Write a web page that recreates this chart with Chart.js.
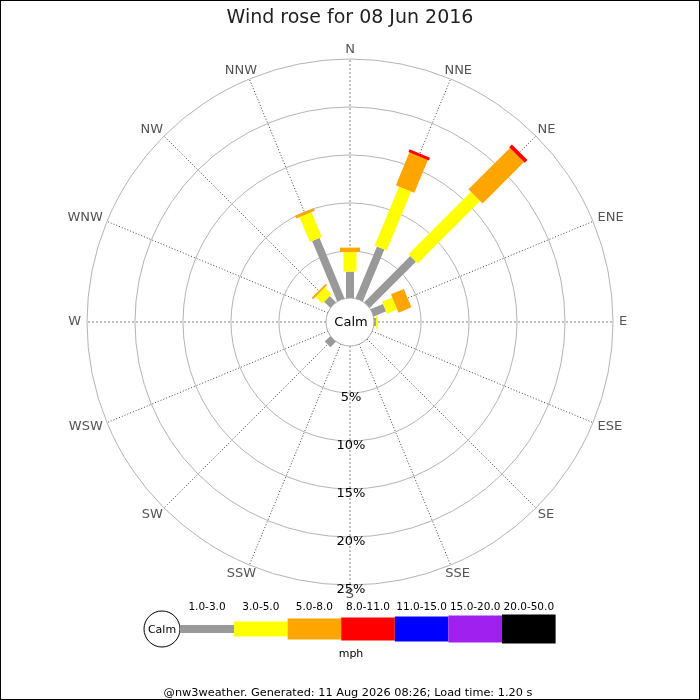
<!DOCTYPE html>
<html lang="en">
<head>
    <meta charset="UTF-8">
    <title>Wind rose for 08 Jun 2016</title>
    <script src="https://cdn.jsdelivr.net/npm/chart.js"></script>
    <style>
        body {
            margin: 0;
            padding: 0;
            background-color: #fff;
        }

        #chart-container {
            width: 700px;
            height: 700px;
        }
    </style>
</head>
<body>
    <div id="chart-container">
        <canvas id="roseChart"></canvas>
    </div>

    <script>
        const directions = ['N', 'NNE', 'NE', 'ENE', 'E', 'ESE', 'SE', 'SSE',
                            'S', 'SSW', 'SW', 'WSW', 'W', 'WNW', 'NW', 'NNW'];
        const speedBins = ['1.0-3.0', '3.0-5.0', '5.0-8.0', '8.0-11.0', '11.0-15.0', '15.0-20.0', '20.0-50.0'];

        // % of the day from each direction, one array per speed bin (mph)
        const pct1to3   = [2.85, 5.95, 6.9, 1.5, 0.3, 0, 0, 0, 0, 0, 0.9, 0, 0, 0, 1.0, 6.9];
        const pct3to5   = [2.05, 6.65, 9.2, 1.15, 0.2, 0, 0, 0, 0, 0, 0, 0, 0, 0, 1.0, 2.8];
        const pct5to8   = [0.45, 3.7, 6.1, 1.45, 0, 0, 0, 0, 0, 0, 0, 0, 0, 0, 0.2, 0.3];
        const pct8to11  = [0, 0.3, 0.4, 0, 0, 0, 0, 0, 0, 0, 0, 0, 0, 0, 0, 0];
        const pct11to15 = [0, 0, 0, 0, 0, 0, 0, 0, 0, 0, 0, 0, 0, 0, 0, 0];
        const pct15to20 = [0, 0, 0, 0, 0, 0, 0, 0, 0, 0, 0, 0, 0, 0, 0, 0];
        const pct20to50 = [0, 0, 0, 0, 0, 0, 0, 0, 0, 0, 0, 0, 0, 0, 0, 0];

        const tickValues = [5, 10, 15, 20, 25];

        const binColours = ['#999999', '#ffff00', '#ffa500', '#ff0000', '#0000ff', '#a020f0', '#000000'];
        const barWidths = [8, 13, 20, 22, 24, 26, 28];
        const legendHeights = [8, 15, 21, 23, 25, 27, 29];

        const binValues = [pct1to3, pct3to5, pct5to8, pct8to11, pct11to15, pct15to20, pct20to50];
        // running totals so each bin sits on top of the slower ones
        const cumulative = binValues.map((arr, k) =>
            arr.map((v, i) => binValues.slice(0, k + 1).reduce((s, a) => s + a[i], 0)));

        const FONT = '"DejaVu Sans", sans-serif';

        const roseDrawing = {
            id: 'roseDrawing',
            beforeDraw(chart) {
                const ctx = chart.ctx;
                ctx.save();
                ctx.fillStyle = '#fff';
                ctx.fillRect(0, 0, chart.width, chart.height);
                ctx.restore();
            },
            afterDatasetsDraw(chart) {
                const ctx = chart.ctx;
                const r = chart.scales.r;
                ctx.save();

                // stacked bars, one thick line per speed bin
                ctx.lineCap = 'butt';
                directions.forEach((d, i) => {
                    let start = r.getPointPositionForValue(i, 0);
                    cumulative.forEach((arr, k) => {
                        const end = chart.getDatasetMeta(k).data[i];
                        if (binValues[k][i] > 0) {
                            ctx.beginPath();
                            ctx.strokeStyle = binColours[k];
                            ctx.lineWidth = barWidths[k];
                            ctx.moveTo(start.x, start.y);
                            ctx.lineTo(end.x, end.y);
                            ctx.stroke();
                        }
                        start = { x: end.x, y: end.y };
                    });
                });

                // calm circle
                const calmR = r.getDistanceFromCenterForValue(0) + 1;
                ctx.beginPath();
                ctx.arc(r.xCenter, r.yCenter, calmR, 0, Math.PI * 2);
                ctx.fillStyle = '#fff';
                ctx.fill();
                ctx.lineWidth = 1;
                ctx.strokeStyle = '#aaa';
                ctx.stroke();
                ctx.fillStyle = '#000';
                ctx.font = '13px ' + FONT;
                ctx.textAlign = 'center';
                ctx.textBaseline = 'middle';
                ctx.fillText('Calm', r.xCenter + 1, r.yCenter + 1);

                // percentage labels down the S axis
                tickValues.forEach(v => {
                    const dist = r.getDistanceFromCenterForValue(v);
                    ctx.fillText(v + '%', r.xCenter + 1, r.yCenter + dist + 4.5);
                });

                // direction labels
                ctx.fillStyle = '#555';
                ctx.font = '13px ' + FONT;
                directions.forEach((d, i) => {
                    const a = r.getIndexAngle(i);
                    const p = r.getPointPosition(i, r.drawingArea + 6);
                    const w = ctx.measureText(d).width;
                    ctx.fillText(d, p.x + Math.sin(a) * w / 2, p.y - Math.cos(a) * 3.5);
                });

                // legend
                const ly = 629;
                ctx.beginPath();
                ctx.arc(162, ly, 18, 0, Math.PI * 2);
                ctx.fillStyle = '#fff';
                ctx.fill();
                ctx.strokeStyle = '#000';
                ctx.lineWidth = 1;
                ctx.stroke();
                ctx.fillStyle = '#000';
                ctx.font = '11px ' + FONT;
                ctx.fillText('Calm', 162, ly + 1);

                let x = 180;
                speedBins.forEach((label, k) => {
                    const w = k === 0 ? 54 : 53.6;
                    const h = legendHeights[k];
                    ctx.fillStyle = binColours[k];
                    ctx.fillRect(x, ly - h / 2, w, h);
                    ctx.fillStyle = '#000';
                    ctx.font = '10.5px ' + FONT;
                    ctx.fillText(label, x + w / 2, 607.5);
                    x += w;
                });
                ctx.font = '11px ' + FONT;
                ctx.fillText('mph', 351, 654.5);

                ctx.font = '11.3px ' + FONT;
                ctx.fillText('@nw3weather. Generated: 11 Aug 2026 08:26; Load time: 1.20 s', 348, 693.5);

                // frame
                ctx.strokeStyle = '#000';
                ctx.lineWidth = 1;
                ctx.strokeRect(0.5, 0.5, chart.width - 1, chart.height - 1);
                ctx.restore();
            }
        };

        const ctx = document.getElementById('roseChart').getContext('2d');
        new Chart(ctx, {
            type: 'radar',
            data: {
                labels: directions,
                datasets: cumulative.map((arr, k) => ({
                    label: speedBins[k],
                    data: arr,
                    fill: false,
                    showLine: false,
                    borderWidth: 0,
                    pointRadius: 0,
                    backgroundColor: 'rgba(0,0,0,0)',
                    borderColor: 'rgba(0,0,0,0)'
                }))
            },
            options: {
                responsive: true,
                maintainAspectRatio: false,
                animation: false,
                events: [],
                layout: {
                    padding: { left: 87, right: 87, top: 0, bottom: 115 }
                },
                plugins: {
                    legend: { display: false },
                    tooltip: { enabled: false },
                    title: {
                        display: true,
                        text: 'Wind rose for 08 Jun 2016',
                        color: '#222',
                        font: { family: FONT, size: 19, weight: 'normal' },
                        padding: { top: 7, bottom: 29.2 }
                    }
                },
                scales: {
                    r: {
                        min: -2.4,
                        max: 25,
                        afterBuildTicks: scale => {
                            scale.ticks = tickValues.map(v => ({ value: v }));
                        },
                        ticks: { display: false },
                        pointLabels: { display: false },
                        grid: { circular: true, color: '#b4b4b4', lineWidth: 1 },
                        angleLines: {
                            color: c => c.index % 4 === 0 ? '#888' : '#444',
                            lineWidth: 1,
                            borderDash: c => c.index % 4 === 0 ? [2, 2] : [1, 2]
                        }
                    }
                }
            },
            plugins: [roseDrawing]
        });
    </script>
</body>
</html>
